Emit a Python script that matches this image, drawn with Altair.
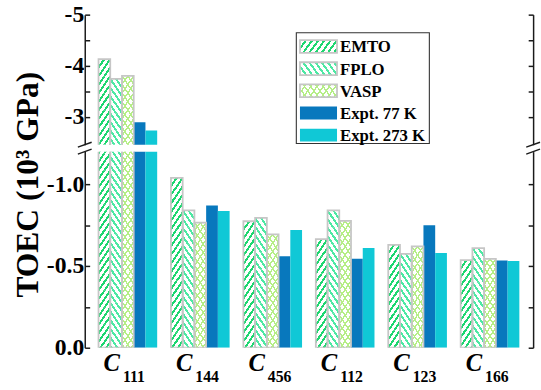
import altair as alt
import pandas as pd

# ---------------- data ----------------
categories = ["C111", "C144", "C456", "C112", "C123", "C166"]
cat_sub = ["111", "144", "456", "112", "123", "166"]
methods = ["EMTO", "FPLO", "VASP", "Expt. 77 K", "Expt. 273 K"]
emto = [-4.13, -1.04, -0.774, -0.664, -0.630, -0.536]
fplo = [-3.74, -0.840, -0.794, -0.840, -0.574, -0.610]
vasp = [-3.80, -0.766, -0.694, -0.776, -0.620, -0.544]
expt77 = [-2.89, -0.870, -0.560, -0.544, -0.750, -0.534]
expt273 = [-2.73, -0.836, -0.720, -0.610, -0.580, -0.530]

series = dict(zip(methods, [emto, fplo, vasp, expt77, expt273]))
rows = []
for m, vals in series.items():
    for c, v in zip(categories, vals):
        rows.append({"cat": c, "method": m, "value": v})
df = pd.DataFrame(rows)
labels_df = pd.DataFrame({"cat": categories, "sub": cat_sub})

# ---------------- styles ----------------
FONT = "Liberation Serif"
AXC = "#1a1a1a"
GRAY = "#c6c6c6"
W, H_TOP, H_BOT, GAP = 455, 132, 199, 7
TOP_DOM, BOT_DOM = [-5, -2.45], [-1.2, 0]
D_TOP, D_BOT = 0.336, 0.105
HATCH = {"EMTO": ("#1ed670", ["/"], 2.0),
         "FPLO": ("#4de8a3", ["\\"], 2.0),
         "VASP": ("#b5ee86", ["/", "\\"], 1.4)}
SOLID = {"Expt. 77 K": "#0878bd", "Expt. 273 K": "#10c8d6"}
CLEAR = "rgba(255,255,255,0)"


def hatch(color, kind, a, b, w, h, thick):
    s = (a + b) / (a * a + b * b)
    if kind == "/":
        g = dict(x1=0, y1=0, x2=a * s, y2=b * s)
    else:
        g = dict(x1=0, y1=1, x2=a * s, y2=1 - b * s)
    K = a + b
    ht = thick / 2 * (((a / w) ** 2 + (b / h) ** 2) ** 0.5) / K
    stops = []
    k = 0
    while k / K - ht <= 1:
        lo, hi = max(k / K - ht, 0), min(k / K + ht, 1)
        stops += [{"offset": round(lo, 4), "color": CLEAR},
                  {"offset": round(lo, 4), "color": color},
                  {"offset": round(hi, 4), "color": color},
                  {"offset": round(hi, 4), "color": CLEAR}]
        k += 1
    g.update({"gradient": "linear", "stops": stops})
    return g


xscale = alt.Scale(domain=categories, paddingInner=0.19, paddingOuter=0.19)


def xenc(axis=None):
    return alt.X("cat:N", sort=categories, scale=xscale, axis=axis, title=None)


xoff = alt.XOffset("method:N", sort=methods, scale=alt.Scale(domain=methods))
hatched = list(HATCH)


def yaxis(orient, vals, expr, **kw):
    base = dict(orient=orient, values=vals, grid=False, domain=True, domainColor=AXC,
                domainWidth=1.5, ticks=True, tickSize={"expr": "-5"}, tickWidth=1.5,
                tickColor=AXC, zindex=1)
    if orient == "left":
        base.update(labels=True, labelExpr=expr, labelFont=FONT, labelFontSize=24,
                    labelFontWeight="bold", labelColor="black", labelPadding=6,
                    labelOverlap=False)
    else:
        base.update(labels=False)
    base.update(kw)
    return alt.Axis(**base)


def panel(dom, height, D, vals, expr, is_top):
    ysc = alt.Scale(domain=dom, reverse=True, nice=False, zero=False)
    if is_top:
        xax = alt.Axis(orient="top", labels=False, domain=True, domainColor=AXC, domainWidth=1.5,
                       ticks=True, tickSize={"expr": "-4"}, tickWidth=1.2, tickColor=AXC,
                       grid=False, zindex=1)
        lax = yaxis("left", vals, expr, title=None)
    else:
        xax = alt.Axis(orient="bottom", labels=False, domain=True, domainColor=AXC, domainWidth=1.5,
                       ticks=True, tickSize={"expr": "-4"}, tickWidth=1.2, tickColor=AXC,
                       tickBand="extent", grid=False, zindex=1)
        lax = yaxis("left", vals, expr, title="TOEC (10³ GPa)", titleFont=FONT,
                    titleFontSize=32, titleFontWeight="bold", titleColor="black",
                    titleX=-58, titleY=33, titleBaseline="middle", titleAngle=270)
    base = alt.Chart(df).mark_bar(clip=True, strokeWidth=0).encode(
        x=xenc(xax), xOffset=xoff,
        y=alt.Y("value:Q", scale=ysc, axis=lax, title=None),
        y2=alt.datum(0),
        fill=alt.Fill("method:N", scale=alt.Scale(domain=methods,
                      range=["white", "white", "white", SOLID["Expt. 77 K"], SOLID["Expt. 273 K"]]),
                      legend=None),
    )
    layers = [base]
    for m in hatched:
        color, kinds, th = HATCH[m]
        for kd in kinds:
            grad = hatch(color, kd, 2, 2, 11.9, 17.4, th)
            t = (alt.Chart(df)
                 .transform_filter(alt.datum.method == m)
                 .transform_calculate(n=f"ceil(abs(datum.value) / {D}) + 1")
                 .transform_calculate(j="sequence(0, datum.n)")
                 .transform_flatten(["j"])
                 .transform_calculate(t0=f"datum.value + datum.j * {D}",
                                      t1=f"datum.value + (datum.j + 1) * {D}")
                 .mark_bar(clip=True, fill=grad, strokeWidth=0)
                 .encode(x=xenc(), xOffset=xoff,
                         y=alt.Y("t0:Q", scale=ysc, axis=None), y2="t1:Q"))
            layers.append(t)
    outline = (alt.Chart(df)
               .transform_filter(alt.FieldOneOfPredicate(field="method", oneOf=hatched))
               .mark_bar(clip=True, filled=False, stroke=GRAY, strokeWidth=1.8)
               .encode(x=xenc(), xOffset=xoff,
                       y=alt.Y("value:Q", scale=ysc, axis=yaxis("right", vals, expr, title=None)),
                       y2=alt.datum(0)))
    layers.append(outline)
    return layers


top_layers = panel(TOP_DOM, H_TOP, D_TOP, [-5, -4.5, -4, -3.5, -3],
                   "datum.value % 1 == 0 ? '-' + format(abs(datum.value), 'd') : ''", True)
bot_layers = panel(BOT_DOM, H_BOT, D_BOT, [-1.0, -0.75, -0.5, -0.25, 0],
                   "abs(datum.value * 4) % 2 == 0 ? (datum.value < 0 ? '-' : '') + format(abs(datum.value), '.1f') : ''",
                   False)

# ---------------- legend (inside top panel) ----------------
LEG_BOX = (214.7, 349.7, 18.3, 130.7)
LEG_Y0, LEG_DY = 32.3, 22.5
SW_X0, SW_X1, SW_H = 218.4, 256.0, 13
TX = 259
leg_layers = [alt.Chart(pd.DataFrame({"k": [0]})).mark_rect(filled=False, stroke="#333333", strokeWidth=1.1)
              .encode(x=alt.value(LEG_BOX[0]), x2=alt.value(LEG_BOX[1]),
                      y=alt.value(LEG_BOX[2]), y2=alt.value(LEG_BOX[3]))]
for i, m in enumerate(methods):
    src = alt.Chart(pd.DataFrame({"method": [m]}))
    yc = LEG_Y0 + LEG_DY * i
    pos = dict(x=alt.value(SW_X0), x2=alt.value(SW_X1),
               y=alt.value(yc - SW_H / 2), y2=alt.value(yc + SW_H / 2))
    if m in HATCH:
        color, kinds, th = HATCH[m]
        leg_layers.append(src.mark_rect(fill="white").encode(**pos))
        for kd in kinds:
            leg_layers.append(src.mark_rect(fill=hatch(color, kd, 6, 1.5, SW_X1 - SW_X0, SW_H, th)).encode(**pos))
        leg_layers.append(src.mark_rect(filled=False, stroke=GRAY, strokeWidth=1.8).encode(**pos))
    else:
        leg_layers.append(src.mark_rect(fill=SOLID[m]).encode(**pos))
    leg_layers.append(src.mark_text(font=FONT, fontSize=17, fontWeight="bold", color="black",
                                    align="left", baseline="middle")
                      .encode(x=alt.value(TX), y=alt.value(yc + 1), text="method:N"))

# ---------------- axis break marks & category labels (bottom panel) ----------------
one = alt.Chart(pd.DataFrame({"k": [0]}))
brk = []
for xc in (0, W):
    for yc in (-7, 0):
        brk.append(one.mark_rule(color=AXC, strokeWidth=1.4).encode(
            x=alt.value(xc - 7), x2=alt.value(xc + 7),
            y=alt.value(yc + 2.5), y2=alt.value(yc - 2.5)))

lab = alt.Chart(labels_df)
lab_c = lab.mark_text(text="C", font=FONT, fontSize=25, fontWeight="bold", fontStyle="italic",
                      color="black", align="right", baseline="alphabetic", dx=-8).encode(
    x=xenc(), y=alt.value(H_BOT + 23.5))
lab_s = lab.mark_text(font=FONT, fontSize=16, fontWeight="bold", color="black",
                      align="left", baseline="alphabetic", dx=-5).encode(
    x=xenc(), y=alt.value(H_BOT + 35), text="sub:N")

top = alt.layer(*top_layers, *leg_layers).resolve_axis(y="independent").properties(width=W, height=H_TOP)
bottom = alt.layer(*bot_layers, *brk, lab_c, lab_s).resolve_axis(y="independent").properties(width=W, height=H_BOT)

chart = (alt.vconcat(top, bottom, spacing=GAP, bounds="flush")
         .resolve_scale(y="independent", x="independent", fill="independent")
         .configure_view(stroke=None)
         .properties(padding={"left": 11, "top": 0, "right": 0, "bottom": 0}, background="white"))

chart.save("out.html", embed_options={"renderer": "svg", "actions": False})
